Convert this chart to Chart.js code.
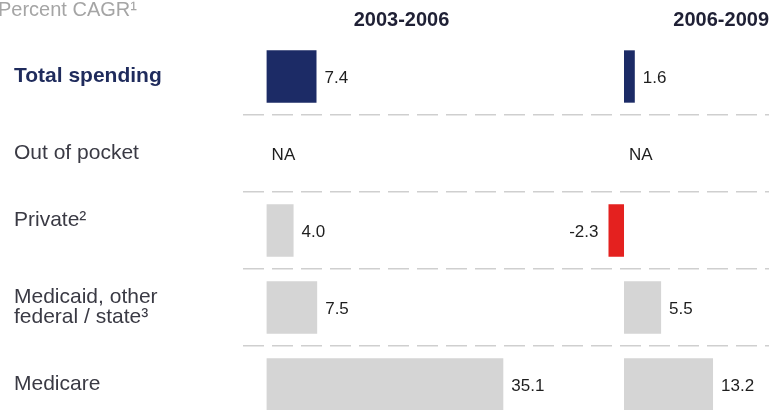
<!DOCTYPE html>
<html>
<head>
<meta charset="utf-8">
<script src="https://cdn.jsdelivr.net/npm/chart.js@4"></script>
<style>
  html, body { margin: 0; padding: 0; background: #fff; overflow: hidden; }
  #frame { width: 769px; height: 410px; overflow: hidden; }
  canvas { display: block; }
</style>
</head>
<body>
<!-- the last row runs past the bottom edge, so the canvas is taller than the frame -->
<div id="frame"><canvas id="myChart" width="769" height="423"></canvas></div>
<script>
// rows, top to bottom (trailing '' lifts a label a little)
const categories = [
  'Total spending',
  'Out of pocket',
  ['Private²', ''],
  ['Medicaid, other', 'federal / state³'],
  'Medicare'
];
const periods = ['2003-2006', '2006-2009'];
const cagr0306 = [7.4, null, 4.0, 7.5, 35.1];
const cagr0609 = [1.6, null, -2.3, 5.5, 13.2];

const NAVY = '#1c2b66';
const GRAY = '#d5d5d5';
const RED = '#e4211f';
const FONT = '"Liberation Sans", Arial, sans-serif';

Chart.defaults.font.family = FONT;

const barColor = (c) => c.dataIndex === 0 ? NAVY : (c.raw < 0 ? RED : GRAY);

// "Percent CAGR" caption in the top-left corner
const caption = {
  id: 'caption',
  afterDraw(chart) {
    const ctx = chart.ctx;
    ctx.save();
    ctx.font = '20px ' + FONT;
    ctx.fillStyle = '#a5a5a5';
    ctx.textAlign = 'left';
    ctx.textBaseline = 'middle';
    ctx.fillText('Percent CAGR¹', -2, 10);
    ctx.restore();
  }
};

// numbers next to the bar ends, NA where there is no value
const valueLabels = {
  id: 'valueLabels',
  afterDatasetsDraw(chart) {
    const ctx = chart.ctx;
    const yScale = chart.scales.y;
    ctx.save();
    ctx.font = '17px ' + FONT;
    ctx.fillStyle = '#1e1e1e';
    ctx.textBaseline = 'middle';
    chart.data.datasets.forEach((ds) => {
      const xs = chart.scales[ds.xAxisID];
      const zero = xs.getPixelForValue(0);
      ds.data.forEach((v, i) => {
        const y = yScale.getPixelForValue(i) + 2;
        if (v === null) {
          ctx.textAlign = 'left';
          ctx.fillText('NA', zero + 5, y);
          return;
        }
        const end = xs.getPixelForValue(v);
        if (v < 0) {
          ctx.textAlign = 'right';
          ctx.fillText(v.toFixed(1), end - 10, y);
        } else {
          ctx.textAlign = 'left';
          ctx.fillText(v.toFixed(1), end + 8, y);
        }
      });
    });
    ctx.restore();
  }
};

const periodAxis = (text, align, min, max, weight) => ({
  position: 'top',
  stack: 'periods',
  stackWeight: max - min,
  weight: weight,
  min: min,
  max: max,
  grid: { display: false, drawTicks: false },
  border: { display: false },
  ticks: { display: false },
  title: {
    display: true,
    text: text,
    align: align,
    color: '#1f2035',
    font: { size: 20, weight: 'bold', lineHeight: 1 },
    padding: { top: 0, bottom: 8 }
  }
});

new Chart(document.getElementById('myChart'), {
  type: 'bar',
  data: {
    labels: categories,
    datasets: [
      { label: periods[0], data: cagr0306, xAxisID: 'x', backgroundColor: barColor },
      { label: periods[1], data: cagr0609, xAxisID: 'x2', backgroundColor: barColor }
    ]
  },
  options: {
    indexAxis: 'y',
    responsive: false,
    animation: false,
    layout: { padding: { left: 14, right: 0, top: 10, bottom: 0 } },
    datasets: {
      bar: { grouped: false, barPercentage: 0.68, categoryPercentage: 1, borderWidth: 0 }
    },
    plugins: {
      legend: { display: false },
      tooltip: { enabled: false },
      title: { display: false }
    },
    scales: {
      x: periodAxis(periods[0], 'center', -3.5, 43.5, 1),
      x2: periodAxis(periods[1], 'end', -9.5, 21.5, 0),
      y: {
        offset: true,
        grid: {
          offset: true,
          drawTicks: false,
          lineWidth: 1.5,
          color: (c) => c.index === 0 ? 'rgba(0,0,0,0)' : '#cfcfcf'
        },
        border: { display: false, dash: [21, 8] },
        ticks: {
          crossAlign: 'far',
          color: (c) => c.index === 0 ? '#1f2b5c' : '#3a3a44',
          font: (c) => ({ size: 21, weight: c.index === 0 ? 'bold' : 'normal', lineHeight: 0.95 })
        },
        afterFit: (scale) => {
          scale.width = 229;
          // rows are offset already, no extra room needed for edge labels
          scale.paddingTop = 0;
          scale.paddingBottom = 0;
        }
      }
    }
  },
  plugins: [caption, valueLabels]
});
</script>
</body>
</html>
